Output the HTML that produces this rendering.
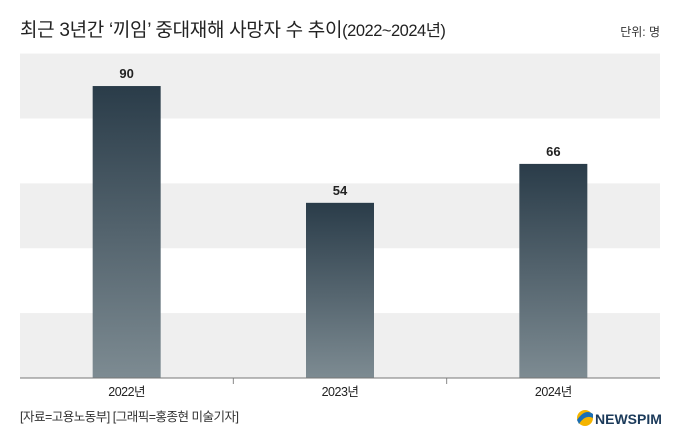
<!DOCTYPE html>
<html><head><meta charset="utf-8"><style>
body{margin:0;background:#fff;width:680px;height:442px;overflow:hidden;font-family:"Liberation Sans","Noto Sans CJK KR",sans-serif}
svg{display:block}
</style></head><body>
<svg id="c" width="680" height="442">
<defs><linearGradient id="g" x1="0" y1="0" x2="0" y2="1"><stop offset="0" stop-color="#2a3c49"/><stop offset="1" stop-color="#7d8b92"/></linearGradient></defs>
<text x="20" y="36" font-size="19" fill="#222" letter-spacing="-0.3">최근 3년간 ‘끼임’ 중대재해 사망자 수 추이<tspan font-size="16.5" letter-spacing="-0.5">(2022~2024년)</tspan></text>
<text x="660" y="36" font-size="12" fill="#333" text-anchor="end">단위: 명</text>
<g id="bands"></g><g id="bars"></g><g id="axis"></g>
<text x="20" y="421" font-size="12.5" fill="#333" letter-spacing="-0.5">[자료=고용노동부] [그래픽=홍종현 미술기자]</text>
<g>
<circle cx="585" cy="418" r="8" fill="#f4b400"/><path d="M577 420 Q585 408 593 414 L593 418 Q585 414 579 424Z" fill="#1b6fb5"/>
<text x="595" y="424" font-size="14" font-weight="bold" fill="#1b3a5a">NEWSPIM</text></g>
</svg>
<script>
const categories=["2022년","2023년","2024년"];
const values=[90,54,66];
const bandTicks=[0,20,40,60,80];
const NS="http://www.w3.org/2000/svg";
const x0=20,x1=660,base=378,ppu=3.244;
const y=v=>base-v*ppu;
const step=(x1-x0)/categories.length;
const cx=i=>x0+step*(i+0.5);
function mk(t,a,p){const e=document.createElementNS(NS,t);for(const k in a)e.setAttribute(k,a[k]);p.appendChild(e);return e;}
const bands=document.getElementById('bands'),bars=document.getElementById('bars'),axis=document.getElementById('axis');
bandTicks.forEach((t,i)=>{if(i%2===0){const r=mk('rect',{x:x0,y:y(t+20),width:x1-x0,height:y(t)-y(t+20),fill:'#efefef'},bands);

}});
values.forEach((v,i)=>{
const r=mk('rect',{x:cx(i)-34,y:y(v),width:68,height:base-y(v),fill:'url(#g)'},bars);


const t=mk('text',{x:cx(i),y:y(v)-8,'font-size':13,'font-weight':'bold','text-anchor':'middle',fill:'#222'},bars);t.textContent=v;


const l=mk('text',{x:cx(i),y:base+18,'font-size':12.5,'text-anchor':'middle',fill:'#222','letter-spacing':'-0.5'},axis);l.textContent=categories[i];


if(i>0){const k=mk('line',{x1:x0+step*i,x2:x0+step*i,y1:base,y2:base+6,stroke:'#888'},axis);

}
});
const a=mk('line',{x1:x0,x2:x1,y1:base,y2:base,stroke:'#777','stroke-width':1},axis);


</script>
</body></html>
